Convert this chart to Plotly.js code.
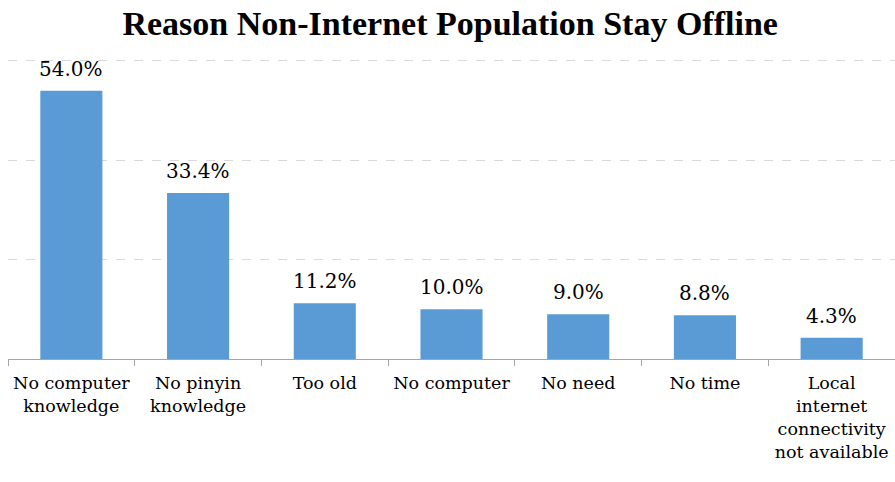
<!DOCTYPE html>
<html>
<head>
<meta charset="utf-8">
<script src="https://cdn.plot.ly/plotly-3.0.1.min.js"></script>
<style>html,body{margin:0;padding:0;background:#fff;}#chart{width:895px;height:482px;}</style>
</head>
<body>
<div id="chart"></div>
<script>
var categories = ["No computer<br>knowledge", "No pinyin<br>knowledge", "Too old", "No computer", "No need", "No time", "Local<br>internet<br>connectivity<br>not available"];
var values = [54.0, 33.4, 11.2, 10.0, 9.0, 8.8, 4.3];
var labels = ["54.0%", "33.4%", "11.2%", "10.0%", "9.0%", "8.8%", "4.3%"];
var yTicks = [0, 20, 40, 60];

var serifBold = "Liberation Serif, Times New Roman, serif";
var serifReg = "DejaVu Serif, Liberation Serif, serif";

var trace = {
  type: "bar",
  x: categories,
  y: values,
  marker: {color: "#5B9BD5"},
  width: 0.49,
  hoverinfo: "none"
};

var annotations = categories.map(function(c, i){
  return {x: c, y: values[i], text: labels[i], showarrow: false, xref: "x", yref: "y",
    yanchor: "bottom", yshift: 8, font: {family: serifReg, size: 20, color: "#000"}};
});

var layout = {
  width: 895, height: 482,
  margin: {l: 8, r: 0, t: 56, b: 123},
  paper_bgcolor: "#fff", plot_bgcolor: "#fff",
  showlegend: false,
  font: {family: serifReg},
  title: {text: "<b>Reason Non-Internet Population Stay Offline</b>", font: {family: serifBold, size: 34, color: "#000"},
    x: 0.503, xanchor: "center", y: 0.953, yanchor: "middle", yref: "container"},
  xaxis: {showline: true, linecolor: "#a6a6a6", linewidth: 1.3, ticks: "outside", tickson: "boundaries",
    ticklen: 6, tickcolor: "#a6a6a6", tickfont: {family: serifReg, size: 17.5, color: "#000"}, showgrid: false,
    tickangle: 0, automargin: false, ticklabelstandoff: 8, fixedrange: true},
  yaxis: {range: [0, 61], tickvals: yTicks, showticklabels: false, showgrid: true, gridcolor: "#d9d9d9",
    griddash: "dash", gridwidth: 1, zeroline: false, showline: false, ticks: "", fixedrange: true},
  annotations: annotations,
  bargap: 0.51
};

Plotly.newPlot("chart", [trace], layout, {staticPlot: true, displayModeBar: false});
</script>
</body>
</html>
